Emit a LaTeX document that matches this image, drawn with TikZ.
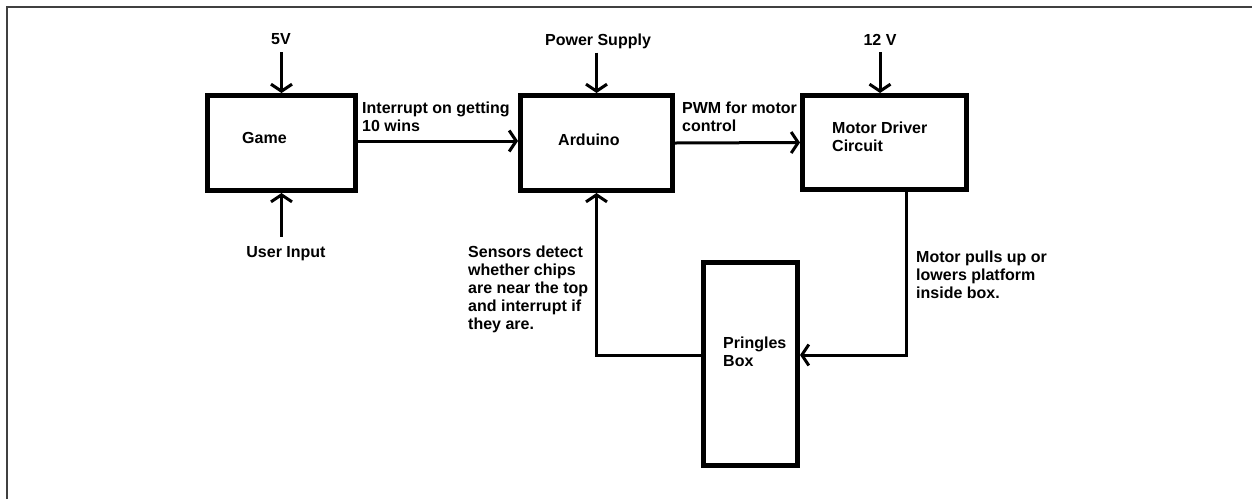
\documentclass[tikz,border=0pt]{standalone}
\usepackage{fontspec}
\setmainfont{Liberation Sans}
\usepackage{tikz}
\usetikzlibrary{arrows.meta, positioning}

\begin{document}
\begin{tikzpicture}[
    x=1pt, y=-1pt,
    font=\bfseries\fontsize{16}{18}\selectfont,
    block/.style={draw=black, line width=5pt, fill=white, inner sep=0pt},
    txt/.style={inner sep=0pt, align=left},
    arrow/.style={-{Straight Barb[length=7pt, width=21pt]}, line width=3pt, draw=black},
    wire/.style={line width=3pt, draw=black},
    frame/.style={line width=1.5pt, draw=black!75}
]
\useasboundingbox (0,0) rectangle (1252,499);

% Screenshot frame (top and left edge only)
\draw[frame] (7,499) -- (7,7) -- (1252,7);

% Blocks
\node[block, minimum width=148pt, minimum height=95pt] (game) at (281.5,143) {};
\node[block, minimum width=152pt, minimum height=95pt] (arduino) at (596.5,143) {};
\node[block, minimum width=164pt, minimum height=94pt] (motor) at (884.5,142.5) {};
\node[block, minimum width=94pt, minimum height=203pt] (pringles) at (750.5,364) {};

% Block texts
\node[txt, anchor=base west] (gametxt) at (242,143) {Game};
\node[txt, anchor=base west] (arduinotxt) at (558,145) {Arduino};
\node[txt, anchor=north west] (motortxt) at (832,122) {Motor Driver\\Circuit};
\node[txt, anchor=north west] (pringlestxt) at (723,337) {Pringles\\Box};

% Inputs
\node[txt, anchor=base] (v5) at (281,44) {5V};
\node[txt, anchor=base] (uin) at (286,257) {User Input};
\node[txt, anchor=base] (vps) at (598,45) {Power Supply};
\node[txt, anchor=base] (v12) at (880,45) {12 V};

% Connector labels
\node[txt, anchor=north west] (irqlbl) at (362,102) {Interrupt on getting\\10 wins};
\node[txt, anchor=north west] (pwmlbl) at (682,102) {PWM for motor\\control};
\node[txt, anchor=north west] (senslbl) at (468,246) {Sensors detect\\whether chips\\are near the top\\and interrupt if\\they are.};
\node[txt, anchor=north west] (motlbl) at (916,251) {Motor pulls up or\\lowers platform\\inside box.};

% Power and input arrows
\draw[arrow, shorten <=8pt] (v5.south -| game.north) -- (game.north);
\draw[arrow, shorten <=9pt] (uin.north -| game.south) -- (game.south);
\draw[arrow, shorten <=4pt] (vps.south -| arduino.north) -- (arduino.north);
\draw[arrow, shorten <=7pt] (v12.south) -- (v12.south |- motor.north);

% Signal flow
\draw[arrow] ([yshift=2pt]game.east) -- ([yshift=2pt]arduino.west);
\draw[arrow] (arduino.east) -- (motor.west);
\draw[arrow] ([xshift=21.5pt]motor.south) |- ([yshift=9pt]pringles.east);
\draw[arrow] ([yshift=9pt]pringles.west) -| (arduino.south);

\end{tikzpicture}
\end{document}
